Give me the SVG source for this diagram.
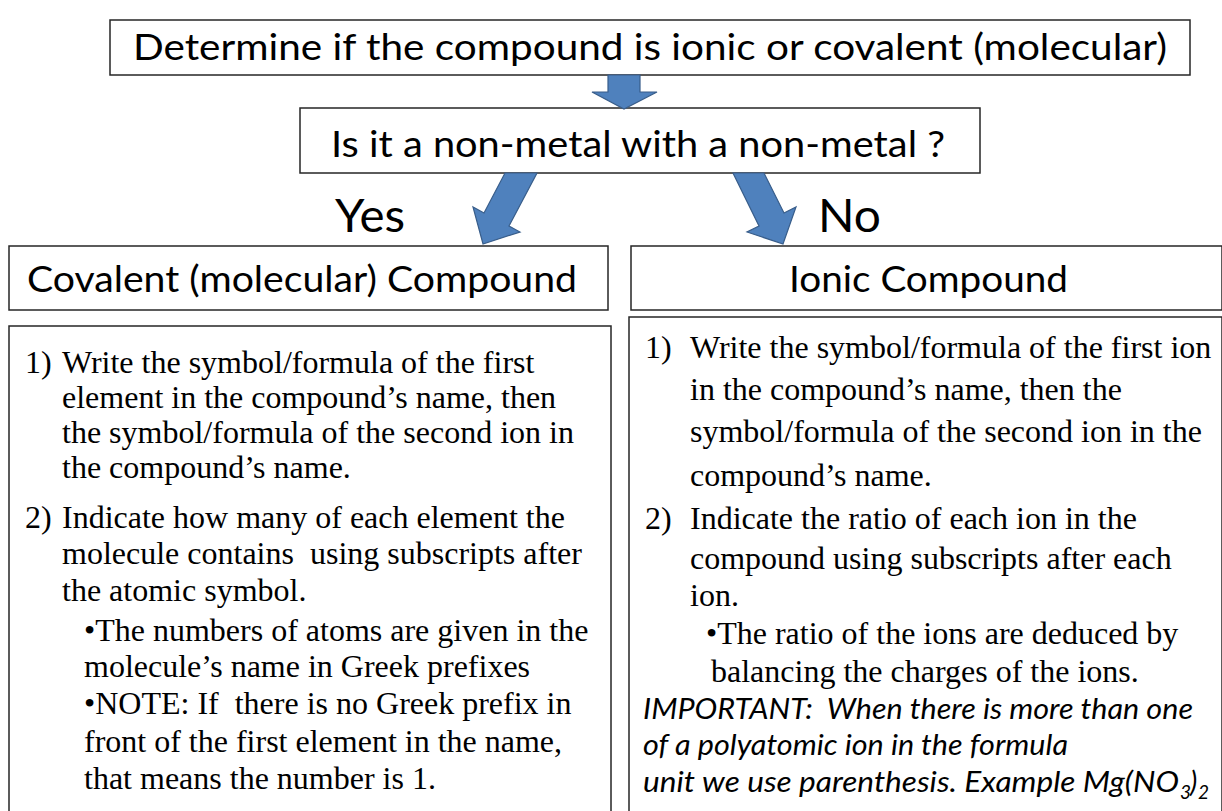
<svg xmlns="http://www.w3.org/2000/svg" width="1222" height="811" viewBox="0 0 1222 811">
<style>
.box{fill:#fff;stroke:#262626;stroke-width:1.5}
.arrow{fill:#4F81BD;stroke:#385D8A;stroke-width:1.2;stroke-linejoin:miter}
.h{font-family:Lato,"Open Sans","Liberation Sans",sans-serif;fill:#000}
.b{font-family:"Liberation Serif","Times New Roman",serif;font-size:32px;fill:#000;white-space:pre}
.i{font-family:Lato,"Open Sans","Liberation Sans",sans-serif;font-style:italic;font-size:28px;fill:#000;white-space:pre}
.sub{font-family:Lato,"Open Sans","Liberation Sans",sans-serif;font-style:italic;font-size:19px;fill:#000}
</style>
<rect width="1222" height="811" fill="#fff"/>

<g id="start">
<rect class="box" x="110" y="20" width="1080" height="55"/>
<text class="h" x="133" y="60" font-size="36" textLength="1034" lengthAdjust="spacingAndGlyphs">Determine if the compound is ionic or covalent (molecular)</text>
</g>

<g id="question">
<rect class="box" x="300" y="108" width="680" height="65"/>
<text class="h" x="331" y="157" font-size="36" textLength="614" lengthAdjust="spacingAndGlyphs">Is it a non-metal with a non-metal ?</text>
</g>

<g id="covalent-header">
<rect class="box" x="9" y="246" width="599" height="64"/>
<text class="h" x="27" y="292" font-size="36" textLength="550" lengthAdjust="spacingAndGlyphs">Covalent (molecular) Compound</text>
</g>

<g id="ionic-header">
<rect class="box" x="631" y="246" width="591" height="64"/>
<text class="h" x="789" y="292" font-size="36" textLength="279" lengthAdjust="spacingAndGlyphs">Ionic Compound</text>
</g>

<g id="covalent-body">
<rect class="box" x="9" y="326" width="602" height="500"/>
<text class="b" x="25" y="373">1)</text>
<text class="b" x="62" y="373">Write the symbol/formula of the first</text>
<text class="b" x="62" y="408">element in the compound’s name, then</text>
<text class="b" x="62" y="443">the symbol/formula of the second ion in</text>
<text class="b" x="62" y="478">the compound’s name.</text>
<text class="b" x="25" y="528">2)</text>
<text class="b" x="62" y="528">Indicate how many of each element the</text>
<text class="b" x="62" y="564">molecule contains  using subscripts after</text>
<text class="b" x="62" y="601">the atomic symbol.</text>
<text class="b" x="84" y="641">•The numbers of atoms are given in the</text>
<text class="b" x="84" y="677">molecule’s name in Greek prefixes</text>
<text class="b" x="84" y="714">•NOTE: If  there is no Greek prefix in</text>
<text class="b" x="84" y="752">front of the first element in the name,</text>
<text class="b" x="84" y="789">that means the number is 1.</text>
</g>

<g id="ionic-body">
<rect class="box" x="629" y="317" width="593" height="510"/>
<text class="b" x="645" y="358">1)</text>
<text class="b" x="690" y="358">Write the symbol/formula of the first ion</text>
<text class="b" x="690" y="400">in the compound’s name, then the</text>
<text class="b" x="690" y="442">symbol/formula of the second ion in the</text>
<text class="b" x="690" y="486">compound’s name.</text>
<text class="b" x="645" y="529">2)</text>
<text class="b" x="690" y="529">Indicate the ratio of each ion in the</text>
<text class="b" x="690" y="569">compound using subscripts after each</text>
<text class="b" x="690" y="606">ion.</text>
<text class="b" x="706" y="644">•The ratio of the ions are deduced by</text>
<text class="b" x="711" y="682">balancing the charges of the ions.</text>
<text class="i" x="643" y="719" textLength="550" lengthAdjust="spacingAndGlyphs">IMPORTANT:  When there is more than one</text>
<text class="i" x="643" y="755" textLength="425" lengthAdjust="spacingAndGlyphs">of a polyatomic ion in the formula</text>
<text class="i" x="643" y="792" textLength="536" lengthAdjust="spacingAndGlyphs">unit we use parenthesis. Example Mg(NO</text>
<text class="sub" x="1180" y="799">3</text>
<text class="i" x="1190" y="792">)</text>
<text class="sub" x="1198" y="799">2</text>
</g>

<g id="connectors">
<polygon class="arrow" points="608,75 640,75 640,92 657,92 624,109 592,92 608,92"/>
<polygon class="arrow" points="505,173 537,173 509,226 520,232 483,244 473,207 484,213"/>
<polygon class="arrow" points="733,173 764,173 784,213 796,207 783,244 747,232 759,226"/>
<text class="h" x="335" y="232" font-size="46" textLength="70" lengthAdjust="spacingAndGlyphs">Yes</text>
<text class="h" x="818" y="232" font-size="46" textLength="63" lengthAdjust="spacingAndGlyphs">No</text>
</g>
</svg>
